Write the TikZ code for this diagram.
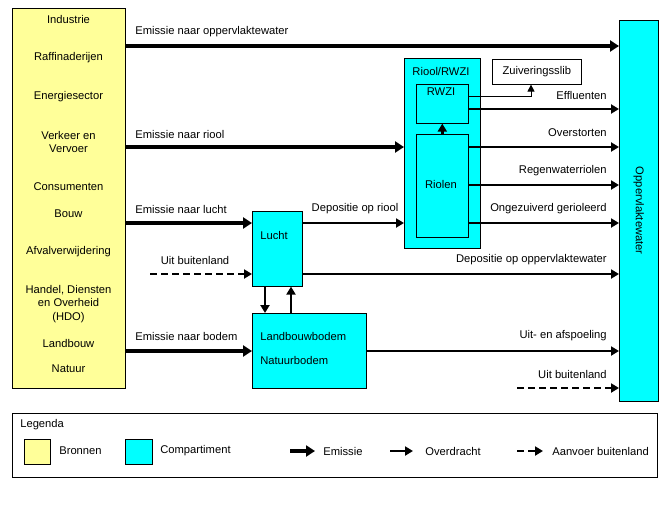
\documentclass[tikz,border=0pt]{standalone}
\usepackage{fontspec}
\setmainfont{Liberation Sans}
\usetikzlibrary{
	arrows.meta,
	calc,
	positioning
}
\definecolor{bronGeel}{RGB}{255,255,153}
\definecolor{compCyaan}{RGB}{0,255,255}
\tikzset{every path/.append style={line width=0.6pt}}
\tikzset{
	bron/.style={draw,fill=bronGeel,anchor=north west,inner sep=0pt},
	comp/.style={draw,fill=compCyaan,anchor=north west,inner sep=0pt},
	txt/.style={inner sep=0pt,font=\fontsize{11.2}{13.2}\selectfont},
	emis/.style={line width=4.2pt,-{Triangle[length=9pt,width=11pt]}},
	overdr/.style={line width=2.8pt,-{Triangle[length=8pt,width=9pt]}},
	buitenl/.style={overdr,dash pattern=on 7pt off 4pt},
	dun/.style={line width=0.8pt,-{Triangle[length=7pt,width=7pt]}}
}
\newcommand{\tikzBox}[5][]{\node (#2) at #3 [#1,minimum width=#4,minimum height=#5]{};}

\begin{document}
\begin{tikzpicture}[x=1pt,y=-1pt]
	\useasboundingbox (0,0) rectangle (669,504);
	
	% bronnen
	\tikzBox[bron]{bron}{(12,8)}{113pt}{380pt};
	\node (bIndu) at (68.5,19) [txt]{Industrie};
	\node (bRaff) at (68.5,58) [txt]{Raffinaderijen};
	\node (bEner) at (68.5,97) [txt]{Energiesector};
	\node (bVerk) at (68.5,142) [txt,align=center]{Verkeer en\\Vervoer};
	\node (bCons) at (68.5,187) [txt]{Consumenten};
	\node (bBouw) at (68.5,214) [txt]{Bouw};
	\node (bAfva) at (68.5,252) [txt]{Afvalverwijdering};
	\node (bHdo) at (68.5,304) [txt,align=center]{Handel, Diensten\\en Overheid\\(HDO)};
	\node (bLand) at (68.5,343) [txt]{Landbouw};
	\node (bNatu) at (68.5,369) [txt]{Natuur};
	
	% compartimenten
	\tikzBox[comp]{lucht}{(252,211)}{50pt}{75pt};
	\tikzBox[comp]{bodem}{(252,313)}{114pt}{75pt};
	\tikzBox[comp]{riool}{(404,58)}{76pt}{190pt};
	\tikzBox[comp]{rwzi}{(416,84)}{52pt}{39pt};
	\tikzBox[comp]{riolen}{(416,134)}{52pt}{103pt};
	\tikzBox[draw,fill=white,anchor=north west]{slib}{(492,59)}{89pt}{25pt};
	\tikzBox[comp]{opp}{(619,20)}{39pt}{381pt};
	
	\node (tLucht) at (260,235) [txt,anchor=west]{Lucht};
	\node (tLandb) at (260,336) [txt,anchor=west]{Landbouwbodem};
	\node (tNatb) at (260,360) [txt,anchor=west]{Natuurbodem};
	\node (tRiool) at (441,71) [txt]{Riool/RWZI};
	\node (tRwzi) at (441,92) [txt]{RWZI};
	\node (tRiolen) at (441,184) [txt]{Riolen};
	\node (tSlib) at (slib) [txt]{Zuiveringsslib};
	\node (tOpp) at (opp) [txt,rotate=-90]{Oppervlaktewater};
	
	% emissies
	\draw[emis] (bron.east |- 0,46) -- (opp.west |- 0,46);
	\draw[emis] (bron.east |- 0,147) -- (riool.west |- 0,147);
	\draw[emis] (bron.east |- 0,223) -- (lucht.west |- 0,223);
	\draw[emis] (bron.east |- 0,351) -- (bodem.west |- 0,351);
	\node (lEmOpp) at (135,32) [txt,anchor=west]{Emissie naar oppervlaktewater};
	\node (lEmRio) at (135,134) [txt,anchor=west]{Emissie naar riool};
	\node (lEmLu) at (135,209) [txt,anchor=west]{Emissie naar lucht};
	\node (lEmBo) at (135,336) [txt,anchor=west]{Emissie naar bodem};
	
	% overdracht
	\draw[overdr] (lucht.east |- 0,223) -- (riool.west |- 0,223);
	\draw[overdr] (lucht.east |- 0,274) -- (opp.west |- 0,274);
	\draw[overdr] (lucht.south -| 265,0) -- (bodem.north -| 265,0);
	\draw[overdr] (bodem.north -| 291,0) -- (lucht.south -| 291,0);
	\draw[overdr] (bodem.east |- 0,351) -- (opp.west |- 0,351);
	\draw[overdr] (rwzi.east |- 0,109) -- (opp.west |- 0,109);
	\draw[overdr] (riolen.east |- 0,147) -- (opp.west |- 0,147);
	\draw[overdr] (riolen.east |- 0,185) -- (opp.west |- 0,185);
	\draw[overdr] (riolen.east |- 0,223) -- (opp.west |- 0,223);
	\draw[overdr] (riolen.north) -- (rwzi.south);
	\draw[dun] (rwzi.east |- 0,96) -| (slib.south -| 531,0);
	\node (lDepRio) at (355,209) [txt]{Depositie op riool};
	\node (lEffl) at (607,95) [txt,anchor=east]{Effluenten};
	\node (lOverst) at (607,133) [txt,anchor=east]{Overstorten};
	\node (lRegen) at (607,171) [txt,anchor=east]{Regenwaterriolen};
	\node (lOngez) at (607,209) [txt,anchor=east]{Ongezuiverd gerioleerd};
	\node (lDepOpp) at (607,260) [txt,anchor=east]{Depositie op oppervlaktewater};
	\node (lAfsp) at (607,336) [txt,anchor=east]{Uit- en afspoeling};
	
	% buitenland
	\coordinate (buitenL) at (150,274);
	\coordinate (buitenR) at (517,388);
	\draw[buitenl] (buitenL) -- (lucht.west |- buitenL);
	\draw[buitenl] (buitenR) -- (opp.west |- buitenR);
	\node (lBuitL) at (195,260) [txt]{Uit buitenland};
	\node (lBuitR) at (607,374) [txt,anchor=east]{Uit buitenland};
	
	% legenda
	\tikzBox[draw,anchor=north west]{legenda}{(12,413)}{645pt}{64pt};
	\node (lgTitel) at (20,425) [txt,anchor=west]{Legenda};
	\tikzBox[bron]{lgBron}{(24,439)}{26pt}{25pt};
	\tikzBox[comp]{lgComp}{(125,439)}{27pt}{25pt};
	\node (lgBronT) at (59,451) [txt,anchor=west]{Bronnen};
	\node (lgCompT) at (160,451) [txt,anchor=west]{Compartiment};
	\node (lgEmis) at (323,451) [txt,anchor=west]{Emissie};
	\node (lgOver) at (425,451) [txt,anchor=west]{Overdracht};
	\node (lgAanv) at (552,451) [txt,anchor=west]{Aanvoer buitenland};
	\draw[emis] ($(lgEmis.west)+(-33,0)$) -- ($(lgEmis.west)+(-8,0)$);
	\draw[overdr] ($(lgOver.west)+(-35,0)$) -- ($(lgOver.west)+(-12,0)$);
	\draw[buitenl] ($(lgAanv.west)+(-35,0)$) -- ($(lgAanv.west)+(-9,0)$);
\end{tikzpicture}
\end{document}
